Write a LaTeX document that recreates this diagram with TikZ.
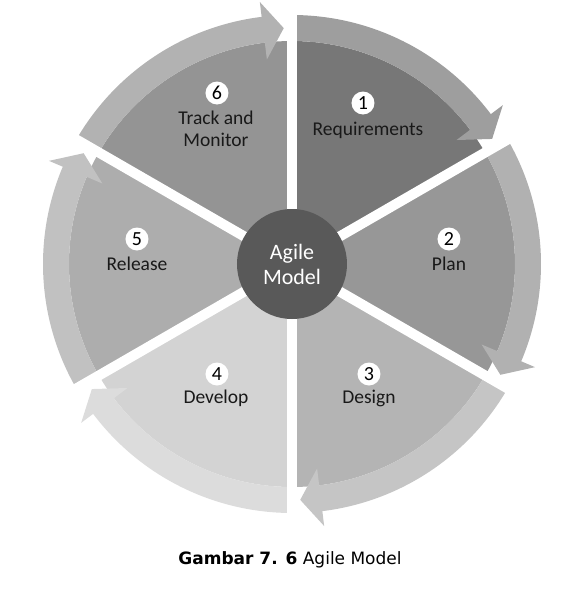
\documentclass[tikz,border=0pt]{standalone}
\usepackage{fontspec}
\setmainfont{Carlito}
\newfontfamily\capfont{DejaVu Sans}
\usepackage{tikz}
\definecolor{wedgeA}{HTML}{777777}
\definecolor{bandA}{HTML}{9E9E9E}
\definecolor{wedgeB}{HTML}{979797}
\definecolor{bandB}{HTML}{B1B1B1}
\definecolor{wedgeC}{HTML}{B4B4B4}
\definecolor{bandC}{HTML}{C5C5C5}
\definecolor{wedgeD}{HTML}{D3D3D3}
\definecolor{bandD}{HTML}{DCDCDC}
\definecolor{wedgeE}{HTML}{ADADAD}
\definecolor{bandE}{HTML}{C1C1C1}
\definecolor{wedgeF}{HTML}{949494}
\definecolor{bandF}{HTML}{B2B2B2}
\definecolor{hubgray}{HTML}{595959}
\tikzstyle{num}=[circle, fill=white, inner sep=0pt, minimum size=23pt, font=\fontsize{20}{20}\selectfont]
\tikzstyle{phase}=[align=center, inner sep=0pt, text=black!90, font=\fontsize{19.5}{22}\selectfont]
\tikzstyle{hub}=[circle, fill=hubgray, minimum size=110pt, inner sep=0pt, text=white, align=center, font=\fontsize{22}{25}\selectfont]
\tikzstyle{spoke}=[white, line width=10pt]
\def\rin{223pt}
\def\rout{249pt}

\begin{document}
\begin{tikzpicture}[x=1pt,y=1pt]
		   \useasboundingbox (-292,-326) rectangle (294,264);
		   \begin{scope}
			   % wedge and arrow band of each phase
			   \foreach \s/\w/\b in {90/wedgeA/bandA, 30/wedgeB/bandB, -30/wedgeC/bandC, -90/wedgeD/bandD, -150/wedgeE/bandE, -210/wedgeF/bandF} {
				   \pgfmathsetmacro\e{\s-60}
				   \fill[\w] (0,0) -- (\s:\rin) arc[start angle=\s, end angle=\e, radius=\rin] -- cycle;
				   \fill[\b] (\s:\rout) arc[start angle=\s, end angle=\e+7, radius=\rout] -- (\e+7:264pt) -- (\e+2:236pt) -- (\e+7:206pt) -- (\e+7:\rin) arc[start angle=\e+7, end angle=\s, radius=\rin] -- cycle;
			   }
			   \foreach \a in {90,30,...,-210}
				   \draw[spoke] (0,0) -- (\a:280pt);
		   \end{scope}
		   \begin{scope}
			   \node[hub] (hub) at (0,0) {Agile\\Model};
			   \node[num] (n1) at (71,161) {1};
			   \node[phase] (p1) at (76,134) {Requirements};
			   \node[num] (n2) at (157,25) {2};
			   \node[phase] (p2) at (157,0) {Plan};
			   \node[num] (n3) at (77,-110) {3};
			   \node[phase] (p3) at (77,-134) {Design};
			   \node[num] (n4) at (-75,-110) {4};
			   \node[phase] (p4) at (-76,-134) {Develop};
			   \node[num] (n5) at (-155,25) {5};
			   \node[phase] (p5) at (-155,0) {Release};
			   \node[num] (n6) at (-75,171) {6};
			   \node[phase] (p6) at (-76,135) {Track and\\Monitor};
		   \end{scope}
		   \node[font=\capfont\fontsize{17}{17}\selectfont] (cap) at (-2,-296) {\textbf{Gambar 7. 6} Agile Model};
	   \end{tikzpicture}
\end{document}
